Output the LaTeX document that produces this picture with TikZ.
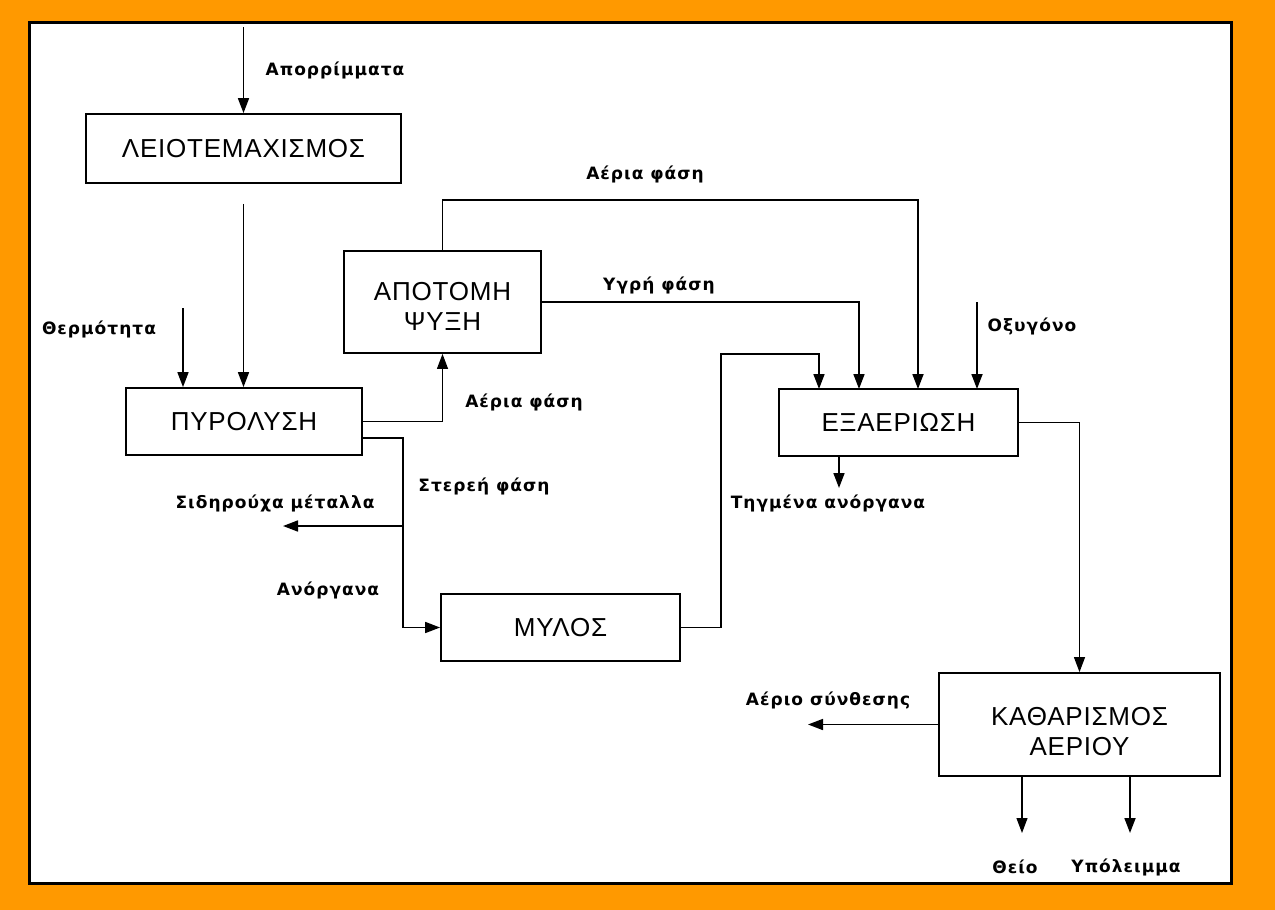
\documentclass[tikz,border=0pt]{standalone}
\usepackage{fontspec}
\setmainfont{Liberation Sans}
\newfontfamily\boxfont{Liberation Sans}[LetterSpace=3]
\newfontfamily\lblfont{DejaVu Sans}[LetterSpace=6]
\usetikzlibrary{arrows.meta,calc}
\definecolor{frameorange}{RGB}{255,153,0}

\tikzset{
  proc/.style={draw, line width=1.8pt, fill=white, align=center, inner sep=0pt,
    font=\boxfont\fontsize{26}{30}\selectfont},
  lbl/.style={inner sep=0pt, font=\lblfont\bfseries\fontsize{17}{20}\selectfont},
  flow/.style={line width=1.7pt, -{Triangle[width=11pt,length=15pt]}},
  thinflow/.style={flow, line width=1.1pt},
}

\begin{document}
\begin{tikzpicture}[x=1pt,y=-1pt]
  % frame
  \fill[frameorange] (0,0) rectangle (1275,910);
  \useasboundingbox (0,0) rectangle (1275,910);
  \draw[line width=3pt, fill=white] (29.5,22.5) rectangle (1231,883);

  % process units
  \node[proc, minimum width=315pt, minimum height=69pt] (leio)  at (243.5,148.5) {ΛΕΙΟΤΕΜΑΧΙΣΜΟΣ};
  \node[proc, minimum width=236pt, minimum height=67pt] (pyro)  at (244,421.5)   {ΠΥΡΟΛΥΣΗ};
  \node[proc, minimum width=197pt, minimum height=102pt, text height=56pt, text depth=0pt] (apot) at (442.5,302) {ΑΠΟΤΟΜΗ\\ΨΥΞΗ};
  \node[proc, minimum width=239pt, minimum height=67pt] (mylos) at (560.5,627.5) {ΜΥΛΟΣ};
  \node[proc, minimum width=239pt, minimum height=67pt] (exa)   at (898.5,422.5) {ΕΞΑΕΡΙΩΣΗ};
  \node[proc, minimum width=281pt, minimum height=103pt, text height=62pt, text depth=0pt] (kath) at (1079.5,724.5) {ΚΑΘΑΡΙΣΜΟΣ\\ΑΕΡΙΟΥ};

  % free ends and bends
  \coordinate (waste) at (243.5,27);
  \coordinate (heat)  at (183,308);
  \coordinate (sp1)   at (403,438);
  \coordinate (ferr)  at (283,526);
  \coordinate (split) at (403,526);
  \coordinate (r1)    at (721,354);
  \coordinate (g1)    at (442.5,200);
  \coordinate (in1)   at (819,389);
  \coordinate (in2)   at (859,389);
  \coordinate (in3)   at (918,389);
  \coordinate (in4)   at (977,389);
  \coordinate (oxy)   at (977,302);
  \coordinate (slag)  at (839,488);
  \coordinate (syn)   at (808,724.5);
  \coordinate (sul)   at (1022,833);
  \coordinate (res)   at (1130,833);

  % connectors
  \draw[flow] (waste) -- (leio.north);
  \draw[flow] ([yshift=-20pt]leio.south) -- (leio.south |- pyro.north);
  \draw[flow] (heat) -- (heat |- pyro.north);
  \draw[thinflow] (pyro.east) -| (apot.south);
  \draw[flow] (pyro.east |- sp1) -- (sp1) |- (mylos.west);
  \draw[flow] (split) -- (ferr);
  \draw[flow] (apot.north) -- (g1) -| (in3);
  \draw[flow] (apot.east) -| (in2);
  \draw[flow] (mylos.east) -| (r1) -| (in1);
  \draw[flow] (oxy) -- (in4);
  \draw[flow] (exa.south -| slag) -- (slag);
  \draw[thinflow] (exa.east) -| (kath.north);
  \draw[flow] (kath.west) -- (syn);
  \draw[thinflow] (kath.south -| sul) -- (sul);
  \draw[flow] (kath.south -| res) -- (res);

  % stream labels
  \node[lbl] (t-waste) at (335,70)  {Απορρίμματα};
  \node[lbl] (t-heat)  at (99,329)  {Θερμότητα};
  \node[lbl] (t-gas1)  at (524,402) {Αέρια φάση};
  \node[lbl] (t-gas2)  at (645,174) {Αέρια φάση};
  \node[lbl] (t-liq)   at (659,285) {Υγρή φάση};
  \node[lbl] (t-sol)   at (484,486) {Στερεή φάση};
  \node[lbl] (t-ferr)  at (275,503) {Σιδηρούχα μέταλλα};
  \node[lbl] (t-inorg) at (328,590) {Ανόργανα};
  \node[lbl] (t-oxy)   at (1032,326) {Οξυγόνο};
  \node[lbl] (t-slag)  at (828,503) {Τηγμένα ανόργανα};
  \node[lbl] (t-syn)   at (828,700) {Αέριο σύνθεσης};
  \node[lbl] (t-sul)   at (1015,867) {Θείο};
  \node[lbl] (t-res)   at (1126,867) {Υπόλειμμα};
\end{tikzpicture}
\end{document}
